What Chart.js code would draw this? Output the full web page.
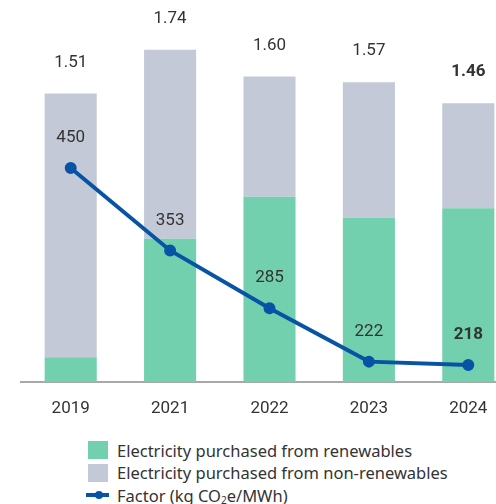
<!DOCTYPE html>
<html>
<head>
<meta charset="utf-8">
<script src="https://cdn.jsdelivr.net/npm/chart.js@4"></script>
<style>
  body { margin: 0; background: #fff; overflow: hidden; width: 496px; height: 504px; position: relative; }
  #wrap { position: absolute; left: 0; top: 0; width: 520px; height: 422px; }
  #legend { position: absolute; left: 86px; top: 439px; font-family: "Noto Sans", sans-serif; font-size: 16.5px; color: #333; }
  .item { display: flex; align-items: center; height: 22.5px; }
  .swatch { width: 20px; height: 18px; margin-left: 2px; margin-right: 9px; }
  .lineMark { position: relative; width: 23px; height: 18px; margin-right: 8px; }
  .lineMark span { position: absolute; left: 0; right: 0; top: 7px; height: 4px; background: #0753a4; }
  .lineMark i { position: absolute; left: 9px; top: 5px; width: 8px; height: 8px; border-radius: 50%; background: #0753a4; }
</style>
</head>
<body>
<div id="wrap"><canvas id="chart" width="520" height="422"></canvas></div>
<div id="legend"></div>
<script>
// --- data ---
const years = ["2019", "2021", "2022", "2023", "2024"];
const renewables = [0.13, 0.75, 0.97, 0.86, 0.91];
const nonRenewables = [1.38, 0.99, 0.63, 0.71, 0.55];
const totalLabels = ["1.51", "1.74", "1.60", "1.57", "1.46"];
const factor = [450, 353, 285, 222, 218];

const green = "#72d0ae";
const grey = "#c3c9d6";
const blue = "#0753a4";

// --- value labels above bars and line points ---
const labelPlugin = {
  id: "valueLabels",
  afterDatasetsDraw(chart) {
    const ctx = chart.ctx;
    const top = chart.getDatasetMeta(1).data;
    const pts = chart.getDatasetMeta(2).data;
    ctx.save();
    ctx.fillStyle = "#333";
    ctx.textAlign = "center";
    ctx.textBaseline = "middle";
    years.forEach((y, i) => {
      const last = i === years.length - 1;
      ctx.font = (last ? "bold " : "") + "17px Roboto, sans-serif";
      ctx.fillText(totalLabels[i], top[i].x, top[i].y - 31);
      ctx.fillText(String(factor[i]), pts[i].x, pts[i].y - 30);
    });
    ctx.restore();
  }
};

const chart = new Chart(document.getElementById("chart"), {
  data: {
    labels: years,
    datasets: [
      {
        type: "bar",
        label: "Electricity purchased from renewables",
        data: renewables,
        backgroundColor: green,
        stack: "s",
        order: 1,
      },
      {
        type: "bar",
        label: "Electricity purchased from non-renewables",
        data: nonRenewables,
        backgroundColor: grey,
        stack: "s",
        order: 1,
      },
      {
        type: "line",
        label: "Factor (kg CO₂e/MWh)",
        data: factor,
        yAxisID: "y2",
        borderColor: blue,
        backgroundColor: blue,
        borderWidth: 4,
        pointRadius: 4,
        pointHoverRadius: 4,
        tension: 0,
        order: 0,
      },
    ],
  },
  options: {
    responsive: false,
    animation: false,
    layout: { autoPadding: false, padding: { left: 21, right: 2, top: 0, bottom: 0 } },
    datasets: { bar: { barPercentage: 0.524, categoryPercentage: 1 } },
    scales: {
      x: {
        stacked: true,
        grid: { display: false, drawTicks: false },
        border: { display: true, color: "#a8a8a8", width: 2 },
        ticks: { color: "#333", font: { family: "Roboto", size: 17 }, padding: 17 },
        afterFit: (s) => { s.height = 40; },
      },
      y: { stacked: true, display: false, min: 0, max: 2 },
      y2: { display: false, min: 198, max: 648 },
    },
    plugins: {
      legend: { display: false },
      tooltip: { enabled: false },
    },
  },
  plugins: [labelPlugin],
});

// --- html legend built from datasets ---
const legendEl = document.getElementById("legend");
chart.data.datasets.forEach((ds) => {
  const row = document.createElement("div");
  row.className = "item";
  if (ds.type === "bar") {
    row.innerHTML = `<div class="swatch" style="background:${ds.backgroundColor}"></div>`;
  } else {
    row.innerHTML = `<div class="lineMark"><span></span><i></i></div>`;
  }
  const txt = document.createElement("span");
  txt.innerHTML = ds.label.replace("CO₂e", "CO<sub style='font-size:10px;vertical-align:-2px'>2</sub>e");
  row.appendChild(txt);
  legendEl.appendChild(row);
});
</script>
</body>
</html>
